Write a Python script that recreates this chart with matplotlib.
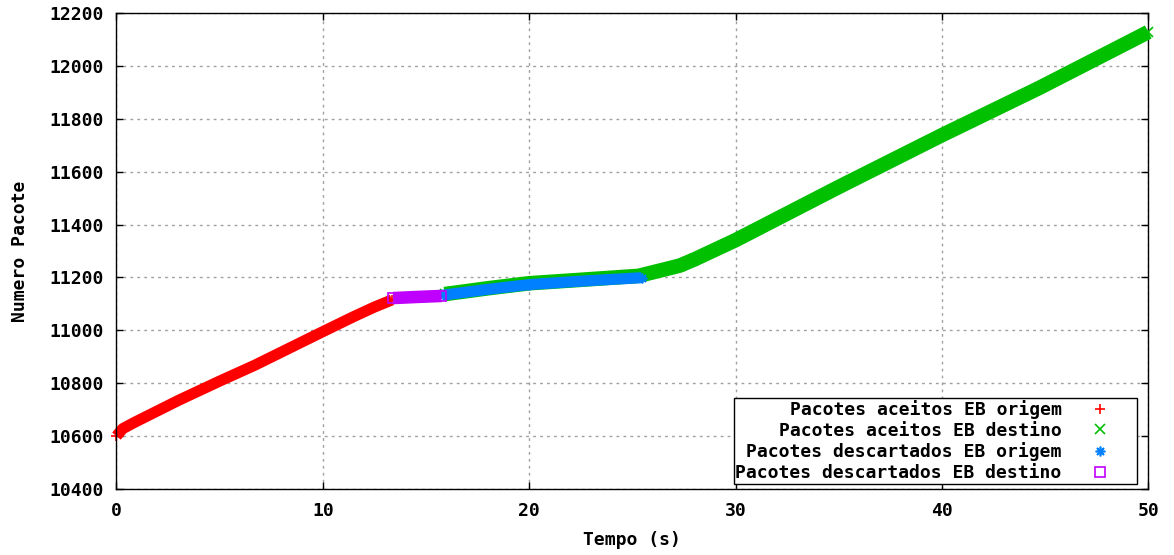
import matplotlib
matplotlib.use('Agg')
import matplotlib.pyplot as plt

# Pacotes aceitos EB origem
t_aceitos_origem = [0.0, 0.3, 0.9, 3.0, 5.0, 6.7, 8.0, 10.0, 11.5, 12.5, 13.35]
n_aceitos_origem = [10600, 10628, 10653, 10735, 10808, 10868, 10918, 10995, 11052, 11088, 11115]

# Pacotes aceitos EB destino (trecho sobreposto + trecho final)
t_aceitos_destino = [15.9, 18.0, 20.0, 22.5, 25.3, 26.9, 27.3, 28.0, 30.0, 35.0, 40.0, 44.7, 50.0]
n_aceitos_destino = [11137, 11159, 11178, 11191, 11206, 11237, 11245, 11268, 11341, 11542, 11738, 11916, 12128]

# Pacotes descartados EB origem
t_desc_origem = [15.8, 18.0, 20.0, 22.5, 25.45]
n_desc_origem = [11133, 11155, 11173, 11186, 11199]

# Pacotes descartados EB destino
t_desc_destino = [13.4, 14.5, 15.75]
n_desc_destino = [11122, 11126, 11130]

FS = 13
plt.rcParams['font.family'] = ['DejaVu Sans Mono', 'DejaVu Sans']
plt.rcParams['font.weight'] = 'bold'
plt.rcParams['font.size'] = FS

fig = plt.figure(figsize=(11.74, 5.55), dpi=100)
ax = fig.add_axes([0.0992, 0.1189, 0.8789, 0.8577])

series = [
    (t_aceitos_origem, n_aceitos_origem, '#ff0000', '+', 8.0, 'Pacotes aceitos EB origem'),
    (t_aceitos_destino, n_aceitos_destino, '#00c000', 'x', 10.5, 'Pacotes aceitos EB destino'),
    (t_desc_origem, n_desc_origem, '#0080ff', (8, 2, 0), 8.0, 'Pacotes descartados EB origem'),
    (t_desc_destino, n_desc_destino, '#c000ff', 's', 9.0, 'Pacotes descartados EB destino'),
]

handles = []
for z, (t, n, color, mk, lw, label) in enumerate(series):
    # faixa densa de pontos
    ax.plot(t, n, color=color, linewidth=lw, solid_capstyle='butt',
            solid_joinstyle='round', zorder=2 + z, clip_on=False)
    h, = ax.plot(t, n, linestyle='none', marker=mk, markersize=7,
                 markeredgewidth=1.2, color=color,
                 markerfacecolor='none' if mk == 's' else color,
                 label=label, zorder=2 + z, clip_on=False)
    handles.append(h)

ax.set_xlim(0, 50)
ax.set_ylim(10400, 12200)
ax.set_xticks(range(0, 51, 10))
ax.set_yticks(range(10400, 12201, 200))

ax.grid(True, color='#a0a0a0', linestyle=(0, (2, 3)), linewidth=1)
ax.set_axisbelow(True)
for side in ax.spines.values():
    side.set_color('black')
    side.set_linewidth(1)

ax.tick_params(direction='in', length=5, width=1, top=True, right=True,
               pad=9, labelsize=FS)

ax.set_xlabel('Tempo (s)', fontsize=FS, fontweight='bold', labelpad=8)
ax.set_ylabel('Numero Pacote', fontsize=FS, fontweight='bold', labelpad=15)

leg = ax.legend(handles=handles, loc='lower right', bbox_to_anchor=(0.989, 0.0105),
                markerfirst=False, fancybox=False, framealpha=1, edgecolor='black',
                borderaxespad=0, borderpad=0.1, labelspacing=0.15,
                handlelength=3.9, handletextpad=0.17,
                prop={'family': 'DejaVu Sans Mono', 'weight': 'bold', 'size': FS})
leg.get_frame().set_linewidth(1)

fig.savefig('out.png', dpi=100)
